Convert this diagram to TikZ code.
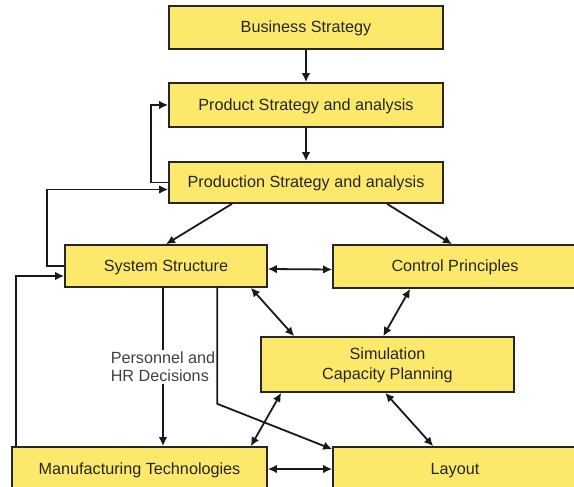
\documentclass[tikz,border=0pt]{standalone}
\usepackage{fontspec}
\setmainfont{Liberation Sans}
\usepackage{tikz}
\usepackage{xcolor}
\usetikzlibrary{arrows.meta}

\definecolor{boxyellow}{RGB}{252,232,106}

\begin{document}
\begin{tikzpicture}[
        x=1pt, y=-1pt,
        block/.style={rectangle, draw=black!85, line width=1.6pt, fill=boxyellow,
            align=center, text=black!85, text depth=1pt, font=\fontsize{16.2}{20}\selectfont},
        link/.style={line width=1.8pt, draw=black!90, -{Latex[length=9pt,width=8.5pt]}},
        biarrow/.style={link, {Latex[length=9pt,width=8.5pt]}-{Latex[length=9pt,width=8.5pt]}},
        note/.style={fill=white, align=left, text=black!75, inner sep=2pt,
            font=\fontsize{16.2}{18}\selectfont}
    ]
        \useasboundingbox (0,0) rectangle (574,487);

        % Strategy chain
        \node[block, minimum width=274pt, minimum height=43pt] (business) at (306,27.5) {Business Strategy};
        \node[block, minimum width=274pt, minimum height=44pt] (product) at (306,105) {Product Strategy and analysis};
        \node[block, minimum width=274pt, minimum height=41pt] (production) at (306,182.5) {Production Strategy and analysis};

        % Middle row
        \node[block, minimum width=202pt, minimum height=42pt] (system) at (166,266) {System Structure};
        \node[block, minimum width=244pt, minimum height=43pt] (control) at (455,266.5) {Control Principles};
        \node[block, minimum width=253pt, minimum height=55pt] (simulation) at (387.5,364.5) {Simulation\\Capacity Planning};

        % Bottom row
        \node[block, minimum width=255pt, minimum height=44pt] (manufacturing) at (139.5,469) {Manufacturing Technologies};
        \node[block, minimum width=244pt, minimum height=44pt] (layout) at (455,469) {Layout};

        % Downward flow
        \draw[link] (business) -- (product);
        \draw[link] (product) -- (production);
        \draw[link] ([xshift=-74pt]production.south) -- (system.north);
        \draw[link] ([xshift=81pt]production.south) -- ([xshift=-3pt]control.north);
        \draw[link] ([xshift=-3pt]system.south) -- ([xshift=-3pt]system.south |- manufacturing.north)
            node[note, midway] {Personnel and\\HR Decisions};
        \draw[link] ([xshift=153pt]system.south west) -- ++(0,116) -- ([yshift=-3pt]layout.north west);

        % Feedback loops
        \draw[link] (production.west) -- ++(-17,0) |- (product.west);
        \draw[link] (system.west) -- ++(-17,0) |- ([yshift=-7pt]production.west);
        \draw[link] ([xshift=5pt]manufacturing.north west) |- ([yshift=-10pt]system.west);

        % Two-way links
        \draw[biarrow] ([yshift=-3pt]system.east) -- ([yshift=-3pt]control.west);
        \draw[biarrow] ([xshift=-17pt]system.south east) -- ([xshift=34pt]simulation.north west);
        \draw[biarrow] ([xshift=78pt]control.south west) -- ([xshift=123pt]simulation.north west);
        \draw[biarrow] ([xshift=21pt]simulation.south west) -- ([xshift=-17pt]manufacturing.north east);
        \draw[biarrow] ([xshift=125pt]simulation.south west) -- ([xshift=101pt]layout.north west);
        \draw[biarrow] (manufacturing.east) -- (layout.west);
    \end{tikzpicture}
\end{document}
